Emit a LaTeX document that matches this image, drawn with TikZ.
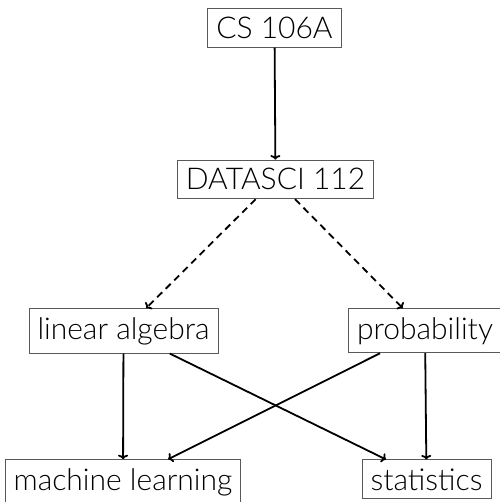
\documentclass[tikz,border=0pt]{standalone}
\usepackage{fontspec}
\setmainfont{Lato Light}
\usetikzlibrary{arrows.meta}
\begin{document}
\begin{tikzpicture}[x=1pt,y=1pt,
  box/.style={draw=black!65, line width=0.9pt, inner xsep=8.5pt, inner ysep=8.5pt,
    font=\fontsize{30}{36}\selectfont, anchor=base},
  arr/.style={line width=1.8pt, -{To[length=4.5pt,width=10pt]}},
  dasharr/.style={arr, dash pattern=on 7pt off 5pt}]
\useasboundingbox (0,0) rectangle (499,-502);
\node[box] (cs) at (274.5,-38.5) {CS 106A};
\node[box] (ds) at (275.5,-190) {DATASCI 112};
\node[box] (la) at (123.5,-339) {linear algebra};
\node[box] (pr) at (425,-339) {probability};
\node[box] (ml) at (123,-490) {machine learning};
\node[box] (st) at (426.5,-490) {statistics};
\draw[arr] (cs) -- (ds);
\draw[dasharr] (ds) -- (la);
\draw[dasharr] (ds) -- (pr);
\draw[arr] (la) -- (ml);
\draw[arr] (la) -- (st);
\draw[arr] (pr) -- (ml);
\draw[arr] (pr) -- (st);
\end{tikzpicture}
\end{document}
